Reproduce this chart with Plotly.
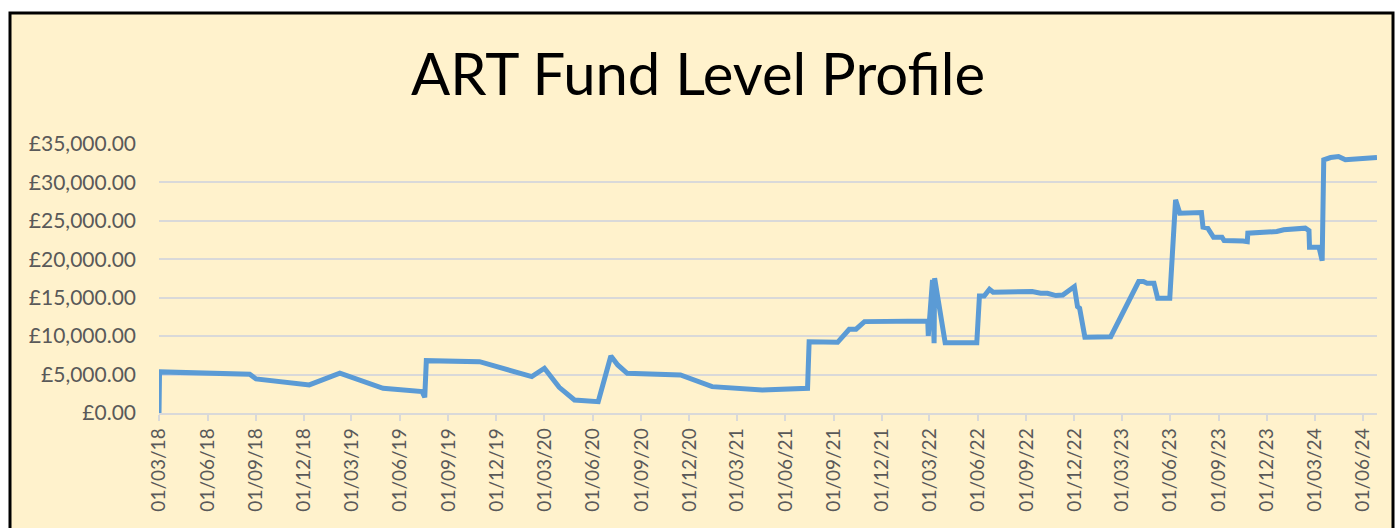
import plotly.graph_objects as go
import pandas as pd

# ---- data ----
dates = [
    "2018-03-01", "2018-03-02", "2018-08-20", "2018-09-01", "2018-12-11",
    "2019-02-07", "2019-04-30", "2019-07-13", "2019-07-18", "2019-07-21",
    "2019-10-30", "2020-02-06", "2020-03-01", "2020-03-29", "2020-04-27",
    "2020-06-11", "2020-07-05", "2020-07-18", "2020-08-05", "2020-11-14",
    "2021-01-13", "2021-03-08", "2021-04-18", "2021-07-13", "2021-07-16",
    "2021-09-08", "2021-09-30", "2021-10-13", "2021-10-29", "2022-02-26",
    "2022-02-27", "2022-03-07", "2022-03-10", "2022-03-11", "2022-03-31",
    "2022-05-30", "2022-06-04", "2022-06-13", "2022-06-23", "2022-06-30",
    "2022-09-12", "2022-09-28", "2022-10-11", "2022-10-27", "2022-11-09",
    "2022-12-01", "2022-12-07", "2022-12-11", "2022-12-21", "2023-02-08",
    "2023-04-02", "2023-04-11", "2023-04-18", "2023-05-01", "2023-05-08",
    "2023-05-31", "2023-06-11", "2023-06-19", "2023-07-30", "2023-08-02",
    "2023-08-11", "2023-08-22", "2023-09-07", "2023-09-11", "2023-10-08",
    "2023-10-17", "2023-10-25", "2023-10-26", "2023-12-20", "2024-01-02",
    "2024-02-12", "2024-02-19", "2024-02-20", "2024-03-09", "2024-03-15",
    "2024-03-18", "2024-03-31", "2024-04-15", "2024-04-28", "2024-06-27",
]
fund_level = [
    0, 5350, 5040, 4430, 3650,
    5170, 3210, 2780, 2040, 6810,
    6680, 4730, 5820, 3340, 1690,
    1470, 7420, 6250, 5170, 4950,
    3430, 3210, 2990, 3210, 9280,
    9200, 10900, 10900, 11890, 11980,
    10030, 17320, 9070, 17540, 9150,
    9150, 15230, 15230, 16100, 15710,
    15800, 15580, 15580, 15280, 15360,
    16450, 13840, 13630, 9860, 9930,
    17100, 17100, 16880, 16880, 14930,
    14930, 27730, 26000, 26080, 24180,
    24050, 22870, 22870, 22430, 22520,
    22390, 22300, 23400, 23610, 23830,
    24050, 23740, 21570, 21570, 19830,
    32940, 33240, 33370, 32940, 33240,
]
tick_dates = pd.date_range("2018-03-01", "2024-06-01", freq="3MS")
tick_labels = [d.strftime("%d/%m/%y") for d in tick_dates]
y_ticks = [0, 5000, 10000, 15000, 20000, 25000, 30000, 35000]
y_tick_labels = ["£{:,.2f}".format(v) for v in y_ticks]

title_text = "ART Fund Level Profile"

# ---- figure ----
W, H = 1396, 528
ml, mr, mt, mb = 159, 19, 144, 115
pw, ph = W - ml - mr, H - mt - mb

def px_x(p):
    return (p - ml) / pw

def px_y(p):
    return (H - mb - p) / ph

fig = go.Figure()
fig.add_trace(go.Scatter(
    x=dates, y=fund_level, mode="lines",
    line=dict(color="#5B9BD5", width=5),
    showlegend=False, hoverinfo="x+y",
))

fig.add_shape(
    type="rect", xref="paper", yref="paper", layer="below",
    x0=px_x(10), x1=px_x(1393), y0=px_y(560), y1=px_y(13),
    fillcolor="#FFF2CC", line=dict(color="black", width=3),
)

fig.update_layout(
    width=W, height=H,
    margin=dict(l=ml, r=mr, t=mt, b=mb),
    paper_bgcolor="white",
    plot_bgcolor="rgba(0,0,0,0)",
    title=dict(text=title_text, x=0.5, xref="container", xanchor="center",
               y=1 - 75 / H, yanchor="middle",
               font=dict(family="Lato", size=58, color="black")),
    font=dict(family="Lato", size=19, color="#595959"),
)
fig.update_xaxes(
    type="date", range=["2018-03-01", "2024-06-27"],
    tickvals=list(tick_dates), ticktext=tick_labels, tickangle=-90,
    showgrid=False, zeroline=False,
    showline=True, linecolor="#D9D9D9", linewidth=1.5,
    ticks="outside", ticklen=6, tickcolor="#D9D9D9", tickwidth=1.5,
    tickfont=dict(family="Lato", size=19, color="#595959"),
)
fig.update_yaxes(
    range=[0, 35000], tickvals=y_ticks, ticktext=y_tick_labels,
    showgrid=True, gridcolor="#D9D9D9", gridwidth=1.5, zeroline=False,
    showline=False, ticks="", ticklabelstandoff=22,
    tickfont=dict(family="Lato", size=21, color="#595959"),
)

fig.write_html("out.html", config={"displayModeBar": False},
               post_script="document.body.style.margin='0';document.body.style.padding='0';")
